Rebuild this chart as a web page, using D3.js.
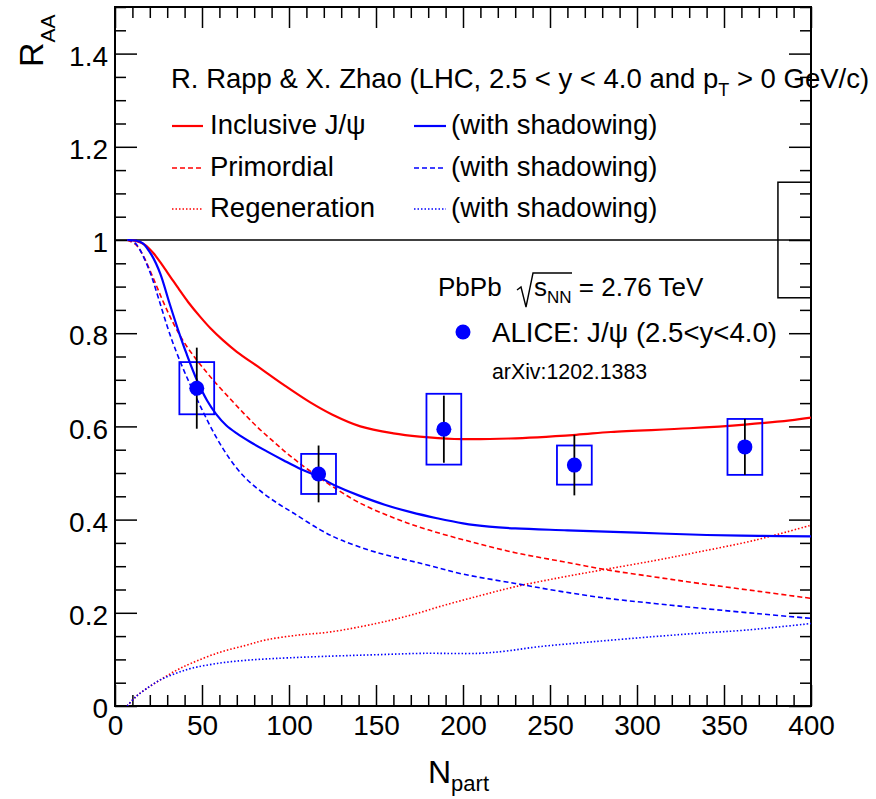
<!DOCTYPE html>
<html><head><meta charset="utf-8">
<script src="https://cdn.jsdelivr.net/npm/d3@7"></script>
<style>
html,body{margin:0;padding:0;background:#fff;}
svg text{font-family:"Liberation Sans",Arial,Helvetica,sans-serif;fill:#000;}
</style></head>
<body>
<svg id="chart" width="876" height="799"></svg>
<script>
// ---------- data ----------
const xTicks = [0,50,100,150,200,250,300,350,400];
const yTicks = [0,0.2,0.4,0.6,0.8,1,1.2,1.4];
const yTickLabels = ["0","0.2","0.4","0.6","0.8","1","1.2","1.4"];

// ALICE J/psi data (2.5<y<4.0)
const npart   = [47, 117, 189, 264, 362];
const raa     = [0.682, 0.498, 0.594, 0.517, 0.556];
const statErr = [0.087, 0.061, 0.072, 0.065, 0.060];
const systErr = [0.056, 0.043, 0.076, 0.042, 0.060];
const boxHalfWidth = 10;
const globalBox = {x0: 381, x1: 400, lo: 0.876, hi: 1.124};

// Rapp & Zhao model curves
const inclN   = [7,12,17,22,27,32,37,42,49,55,62,70,83,97,112,125,141,160,175,195,227,265,285,330,362,388,400];
const inclY   = [1.0,0.998,0.99,0.972,0.947,0.92,0.893,0.867,0.835,0.81,0.785,0.76,0.726,0.689,0.652,0.625,0.6,0.585,0.578,0.573,0.574,0.582,0.588,0.596,0.604,0.613,0.619];
const inclShN = [7,12,16,21,26,31,36,41,47,53,58,64,70,78,87,97,107,117,127,140,155,170,185,200,215,230,260,300,340,370,400];
const inclShY = [1.0,0.999,0.993,0.968,0.928,0.868,0.81,0.757,0.70,0.655,0.627,0.602,0.585,0.566,0.547,0.527,0.508,0.492,0.472,0.452,0.432,0.416,0.403,0.392,0.385,0.381,0.377,0.372,0.367,0.365,0.364];
const primN   = [7,12,16,22,28,34,41,49,57,66,74,82,90,98,106,116,125,140,160,180,204,230,257,283,310,336,370,400];
const primY   = [1.0,0.99,0.968,0.918,0.865,0.818,0.773,0.733,0.697,0.66,0.628,0.598,0.571,0.545,0.521,0.494,0.471,0.437,0.404,0.378,0.353,0.329,0.31,0.292,0.277,0.263,0.246,0.231];
const primShN = [7,11,14,20,25,30,34,41,50,58,66,74,83,93,103,118,130,150,177,200,230,256,283,310,336,370,400];
const primShY = [1.0,0.995,0.981,0.932,0.875,0.815,0.772,0.708,0.636,0.578,0.53,0.493,0.463,0.436,0.413,0.378,0.356,0.33,0.305,0.283,0.263,0.246,0.231,0.22,0.21,0.198,0.188];
const regN    = [7,12,18,26,35,44,60,75,87,105,124,150,170,190,210,230,255,280,310,336,368,400];
const regY    = [0,0.02,0.037,0.056,0.076,0.092,0.115,0.13,0.142,0.152,0.159,0.177,0.195,0.217,0.237,0.256,0.275,0.292,0.312,0.331,0.356,0.388];
const regShN  = [7,12,18,26,35,44,60,75,92,124,150,177,209,225,243,275,310,335,363,400];
const regShY  = [0,0.02,0.037,0.056,0.07,0.081,0.092,0.098,0.102,0.107,0.11,0.113,0.113,0.118,0.127,0.138,0.149,0.156,0.163,0.177];

const RED = "#ff0000", BLUE = "#0000ff";
const DASH = "5,3", DOT = "1.5,2";

// ---------- layout ----------
const svg = d3.select("#chart");
const L = 115, R = 811, T = 7, B = 706;
const x = d3.scaleLinear().domain([0,400]).range([L,R]);
const y = d3.scaleLinear().domain([0,1.5]).range([B,T]);

svg.append("defs").append("clipPath").attr("id","clip")
  .append("rect").attr("x",L).attr("y",T).attr("width",R-L).attr("height",B-T);

// ---------- axes (ticks inward on all sides) ----------
const xMinor = d3.range(0,401,10).filter(v => v%50!==0);
const yMinor = d3.range(0,31).map(i=>i*0.05).filter(v => Math.abs(v/0.2 - Math.round(v/0.2))>1e-6);

function axisGroup(axis, tx, ty){
  const g = svg.append("g").attr("transform",`translate(${tx},${ty})`).call(axis);
  g.select(".domain").remove();
  g.selectAll(".tick line").attr("stroke","#000").attr("stroke-width",1.5);
  return g;
}
const gxB = axisGroup(d3.axisBottom(x).tickValues(xTicks).tickSize(-21).tickPadding(9).tickFormat(d3.format("d")), 0, B);
gxB.selectAll(".tick text").attr("font-size",28).attr("font-family","Liberation Sans, Arial, sans-serif").attr("fill","#000");
axisGroup(d3.axisBottom(x).tickValues(xMinor).tickSize(-11).tickFormat(""), 0, B);
axisGroup(d3.axisTop(x).tickValues(xTicks).tickSize(-21).tickFormat(""), 0, T);
axisGroup(d3.axisTop(x).tickValues(xMinor).tickSize(-11).tickFormat(""), 0, T);
const gyL = axisGroup(d3.axisLeft(y).tickValues(yTicks).tickSize(-22).tickPadding(7).tickFormat((d,i)=>yTickLabels[i]), L, 0);
gyL.selectAll(".tick text").attr("font-size",28).attr("font-family","Liberation Sans, Arial, sans-serif").attr("fill","#000").attr("dy","0.42em");
axisGroup(d3.axisLeft(y).tickValues(yMinor).tickSize(-11).tickFormat(""), L, 0);
axisGroup(d3.axisRight(y).tickValues(yTicks).tickSize(-22).tickFormat(""), R, 0);
axisGroup(d3.axisRight(y).tickValues(yMinor).tickSize(-11).tickFormat(""), R, 0);

// frame
svg.append("rect").attr("x",L).attr("y",T).attr("width",R-L).attr("height",B-T)
  .attr("fill","none").attr("stroke","#000").attr("stroke-width",2);

// axis titles
svg.append("text").attr("x",428).attr("y",783).attr("font-size",32)
  .text("N").append("tspan").attr("font-size",22).attr("dy",8).text("part");
svg.append("text").attr("transform","translate(43,67) rotate(-90)").attr("font-size",34)
  .text("R").append("tspan").attr("font-size",21).attr("dy",12).text("AA");

// ---------- plot content ----------
const plot = svg.append("g").attr("clip-path","url(#clip)");

plot.append("line").attr("x1",x(0)).attr("x2",x(400)).attr("y1",y(1)).attr("y2",y(1))
  .attr("stroke","#000").attr("stroke-width",1.5);
plot.append("rect").attr("x",x(globalBox.x0)).attr("y",y(globalBox.hi))
  .attr("width",x(globalBox.x1)-x(globalBox.x0)).attr("height",y(globalBox.lo)-y(globalBox.hi))
  .attr("fill","none").attr("stroke","#000").attr("stroke-width",1.5);

const line = d3.line().x(d=>x(d[0])).y(d=>y(d[1])).curve(d3.curveCatmullRom.alpha(0.5));
const curves = [
  {n: regN,    v: regY,    c: RED,  dash: DOT,  w: 1.6},
  {n: regShN,  v: regShY,  c: BLUE, dash: DOT,  w: 1.6},
  {n: primN,   v: primY,   c: RED,  dash: DASH, w: 1.6},
  {n: primShN, v: primShY, c: BLUE, dash: DASH, w: 1.6},
  {n: inclN,   v: inclY,   c: RED,  dash: null, w: 2.2},
  {n: inclShN, v: inclShY, c: BLUE, dash: null, w: 2.2}
];
curves.forEach(cv => {
  plot.append("path").datum(cv.n.map((d,i)=>[d, cv.v[i]]))
    .attr("d", line).attr("fill","none").attr("stroke",cv.c)
    .attr("stroke-width",cv.w).attr("stroke-dasharray",cv.dash);
});

const pts = npart.map((d,i)=>({n:d, r:raa[i], s:statErr[i], sy:systErr[i]}));
plot.selectAll(".sysbox").data(pts).enter().append("rect")
  .attr("x",d=>x(d.n-boxHalfWidth)).attr("y",d=>y(d.r+d.sy))
  .attr("width",d=>x(d.n+boxHalfWidth)-x(d.n-boxHalfWidth))
  .attr("height",d=>y(d.r-d.sy)-y(d.r+d.sy))
  .attr("fill","none").attr("stroke",BLUE).attr("stroke-width",1.8);
plot.selectAll(".err").data(pts).enter().append("line")
  .attr("x1",d=>x(d.n)).attr("x2",d=>x(d.n))
  .attr("y1",d=>y(d.r+d.s)).attr("y2",d=>y(d.r-d.s))
  .attr("stroke","#000").attr("stroke-width",1.8);
plot.selectAll(".dot").data(pts).enter().append("circle")
  .attr("cx",d=>x(d.n)).attr("cy",d=>y(d.r)).attr("r",7.5).attr("fill",BLUE);

// ---------- legend ----------
const LF = 27.5;
const hdr = svg.append("text").attr("x",171).attr("y",88).attr("font-size",LF);
hdr.append("tspan").text("R. Rapp & X. Zhao (LHC, 2.5 < y < 4.0 and p");
hdr.append("tspan").attr("font-size",18).attr("dy",8).text("T");
hdr.append("tspan").attr("dy",-8).text(" > 0 GeV/c)");

const legRows = [
  {label:"Inclusive J/\u03c8", dash:null, w:2.2, yy:126},
  {label:"Primordial",       dash:DASH, w:1.6, yy:168},
  {label:"Regeneration",     dash:DOT,  w:1.6, yy:209}
];
legRows.forEach(r => {
  svg.append("line").attr("x1",172).attr("x2",203).attr("y1",r.yy).attr("y2",r.yy)
    .attr("stroke",RED).attr("stroke-width",r.w).attr("stroke-dasharray",r.dash);
  svg.append("text").attr("x",210).attr("y",r.yy+8).attr("font-size",LF).text(r.label);
  svg.append("line").attr("x1",414).attr("x2",446).attr("y1",r.yy).attr("y2",r.yy)
    .attr("stroke",BLUE).attr("stroke-width",r.w).attr("stroke-dasharray",r.dash);
  svg.append("text").attr("x",451).attr("y",r.yy+8).attr("font-size",LF).text("(with shadowing)");
});

svg.append("text").attr("x",438).attr("y",296).attr("font-size",26).text("PbPb");
svg.append("path").attr("d","M517,290 L521,287 L526,307 L533,273 L572,273")
  .attr("fill","none").attr("stroke","#000").attr("stroke-width",1.4);
const sq = svg.append("text").attr("x",534).attr("y",296).attr("font-size",26);
sq.append("tspan").text("s");
sq.append("tspan").attr("font-size",17).attr("dy",7).text("NN");
sq.append("tspan").attr("dy",-7).text(" = 2.76 TeV");

svg.append("circle").attr("cx",463).attr("cy",332).attr("r",7.5).attr("fill",BLUE);
svg.append("text").attr("x",492).attr("y",342).attr("font-size",27.6).text("ALICE: J/\u03c8 (2.5<y<4.0)");
svg.append("text").attr("x",492).attr("y",379).attr("font-size",21.3).text("arXiv:1202.1383");
</script>
</body></html>
